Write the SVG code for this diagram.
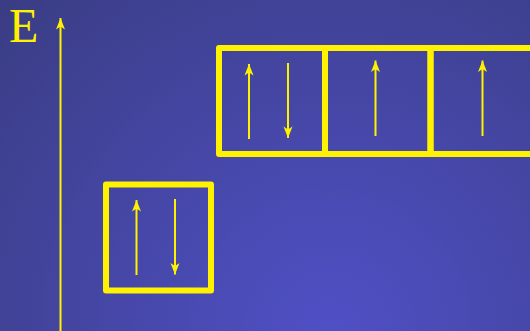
<svg xmlns="http://www.w3.org/2000/svg" width="530" height="331" viewBox="0 0 530 331">
  <defs>
    <radialGradient id="bg" cx="330" cy="331" r="460" gradientUnits="userSpaceOnUse">
      <stop offset="0" stop-color="#5050c6"/>
      <stop offset="1" stop-color="#3a3d84"/>
    </radialGradient>
    <marker id="ah" markerUnits="userSpaceOnUse" markerWidth="14" markerHeight="12" viewBox="-12 -6 14 12" refX="0" refY="0" orient="auto">
      <path d="M0,0 L-11.5,-4.5 L-8.5,0 L-11.5,4.5 Z" fill="#fff200"/>
    </marker>
    <style>
      .box { fill: none; stroke: #fff200; stroke-width: 6; stroke-linejoin: round; }
      .spin { stroke: #fff200; stroke-width: 2; marker-end: url(#ah); }
      .lbl { font-family: "Liberation Serif", "Times New Roman", serif; font-size: 48px; fill: #fff200; }
    </style>
  </defs>
  <rect width="530" height="331" fill="url(#bg)"/>
  <text class="lbl" x="9" y="42">E</text>
  <g id="connectors">
    <line class="spin" x1="60.5" y1="331" x2="60.5" y2="18"/>
  </g>
  <g id="orbital-upper-1">
    <rect class="box" x="219" y="48" width="106" height="106"/>
    <line class="spin" x1="249" y1="139" x2="249" y2="64"/>
    <line class="spin" x1="288" y1="63" x2="288" y2="138"/>
  </g>
  <g id="orbital-upper-2">
    <rect class="box" x="325" y="48" width="105.5" height="106"/>
    <line class="spin" x1="375.5" y1="136" x2="375.5" y2="60.5"/>
  </g>
  <g id="orbital-upper-3">
    <rect class="box" x="430.5" y="48" width="106" height="106"/>
    <line class="spin" x1="482.5" y1="136" x2="482.5" y2="60.5"/>
  </g>
  <g id="orbital-lower">
    <rect class="box" x="106" y="184.5" width="105" height="106"/>
    <line class="spin" x1="136.5" y1="275" x2="136.5" y2="200"/>
    <line class="spin" x1="175" y1="199" x2="175" y2="274.5"/>
  </g>
</svg>
